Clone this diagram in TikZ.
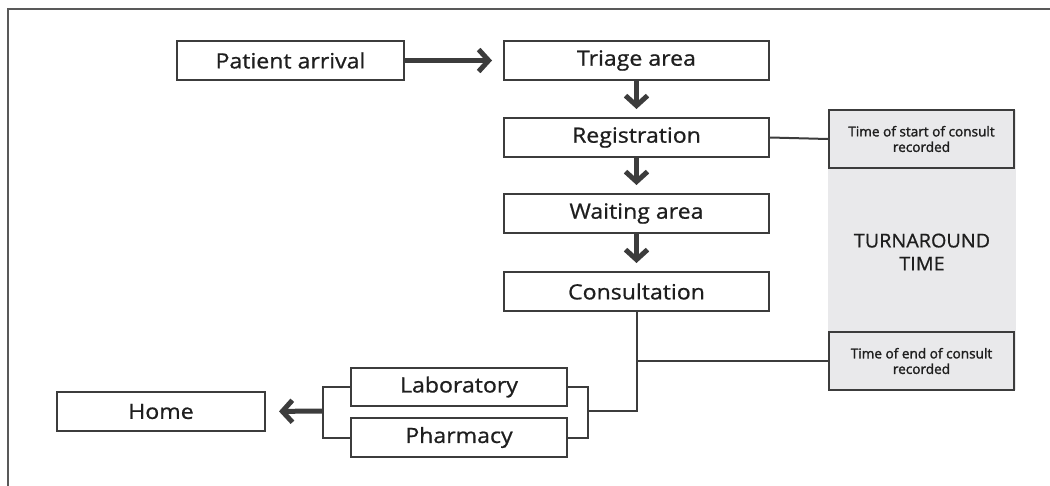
\documentclass[tikz,border=0pt]{standalone}
\usepackage{fontspec}
\setmainfont{Open Sans}
\newfontfamily\mainlbl[FakeStretch=1.1,FakeBold=0.8]{Open Sans}
\newfontfamily\turnfont[FakeStretch=1.04,FakeBold=0.8]{Open Sans}
\newfontfamily\notefont[FakeBold=1.6]{Open Sans}
\usetikzlibrary{arrows.meta}
\definecolor{linegray}{HTML}{3C3C3C}
\definecolor{fillgray}{HTML}{E9E9EB}
\definecolor{txt}{HTML}{1E1E1E}
\tikzset{
  stagebox/.style={draw=linegray, line width=2pt, fill=white, minimum height=39pt, inner sep=0pt,
    text=txt, font=\mainlbl\fontsize{21}{22}\selectfont},
  notebox/.style={draw=linegray, line width=2pt, fill=fillgray, minimum width=185pt, minimum height=58pt,
    inner sep=0pt, text=txt, align=center, font=\notefont\fontsize{13.6}{15.5}\selectfont},
  bigarrow/.style={draw=linegray, line width=5pt, -{Straight Barb[length=10pt,width=22pt]}},
  thinline/.style={draw=linegray, line width=2pt},
  frameline/.style={draw=linegray!85, line width=2pt}
}
\begin{document}
\begin{tikzpicture}[x=1pt,y=-1pt]
\useasboundingbox (0,0) rectangle (1050,485);
% outer frame
\draw[frameline] (1052,9) -- (8,9) -- (8,487);
% turnaround band
\fill[fillgray] (828,110) rectangle (1016,390);
\node[text=txt, align=center, font=\turnfont\fontsize{19}{23}\selectfont] (tat) at (922,252) {TURNAROUND\\TIME};
% stages
\node[stagebox, minimum width=227pt] (arr) at (290.5,60.5) {Patient arrival};
\node[stagebox, minimum width=265pt] (tri) at (636.5,60.5) {Triage area};
\node[stagebox, minimum width=265pt] (reg) at (636.5,137.5) {Registration};
\node[stagebox, minimum width=265pt] (wait) at (636.5,213.5) {Waiting area};
\node[stagebox, minimum width=265pt] (cons) at (636.5,291.5) {Consultation};
\node[stagebox, minimum width=216pt, minimum height=38pt] (lab) at (459,387) {Laboratory};
\node[stagebox, minimum width=216pt] (pha) at (459,437.5) {Pharmacy};
\node[stagebox, minimum width=208pt] (home) at (161,411.5) {Home};
% notes
\node[notebox] (start) at (921.5,139) {Time of start of consult\\recorded};
\node[notebox] (end) at (921.5,361) {Time of end of consult\\recorded};
% arrows
\draw[bigarrow, shorten >=11pt] (arr.east) -- (tri.west);
\draw[bigarrow, shorten >=8pt] (tri.south) -- (reg.north);
\draw[bigarrow, shorten >=8pt] (reg.south) -- (wait.north);
\draw[bigarrow, shorten >=8pt] (wait.south) -- (cons.north);
% connectors
\coordinate (rb) at (588,411);
\coordinate (lb) at (323,411);
\draw[thinline] (reg.east) -- (start.west);
\draw[thinline] (cons.south) |- (rb);
\draw[thinline] (cons.south |- end.west) -- (end.west);
\draw[thinline] (lab.east) -| (rb) |- (pha.east);
\draw[thinline] (lab.west) -| (lb) |- (pha.west);
\draw[bigarrow, shorten >=13pt] (lb) -- (home.east);
\end{tikzpicture}
\end{document}
